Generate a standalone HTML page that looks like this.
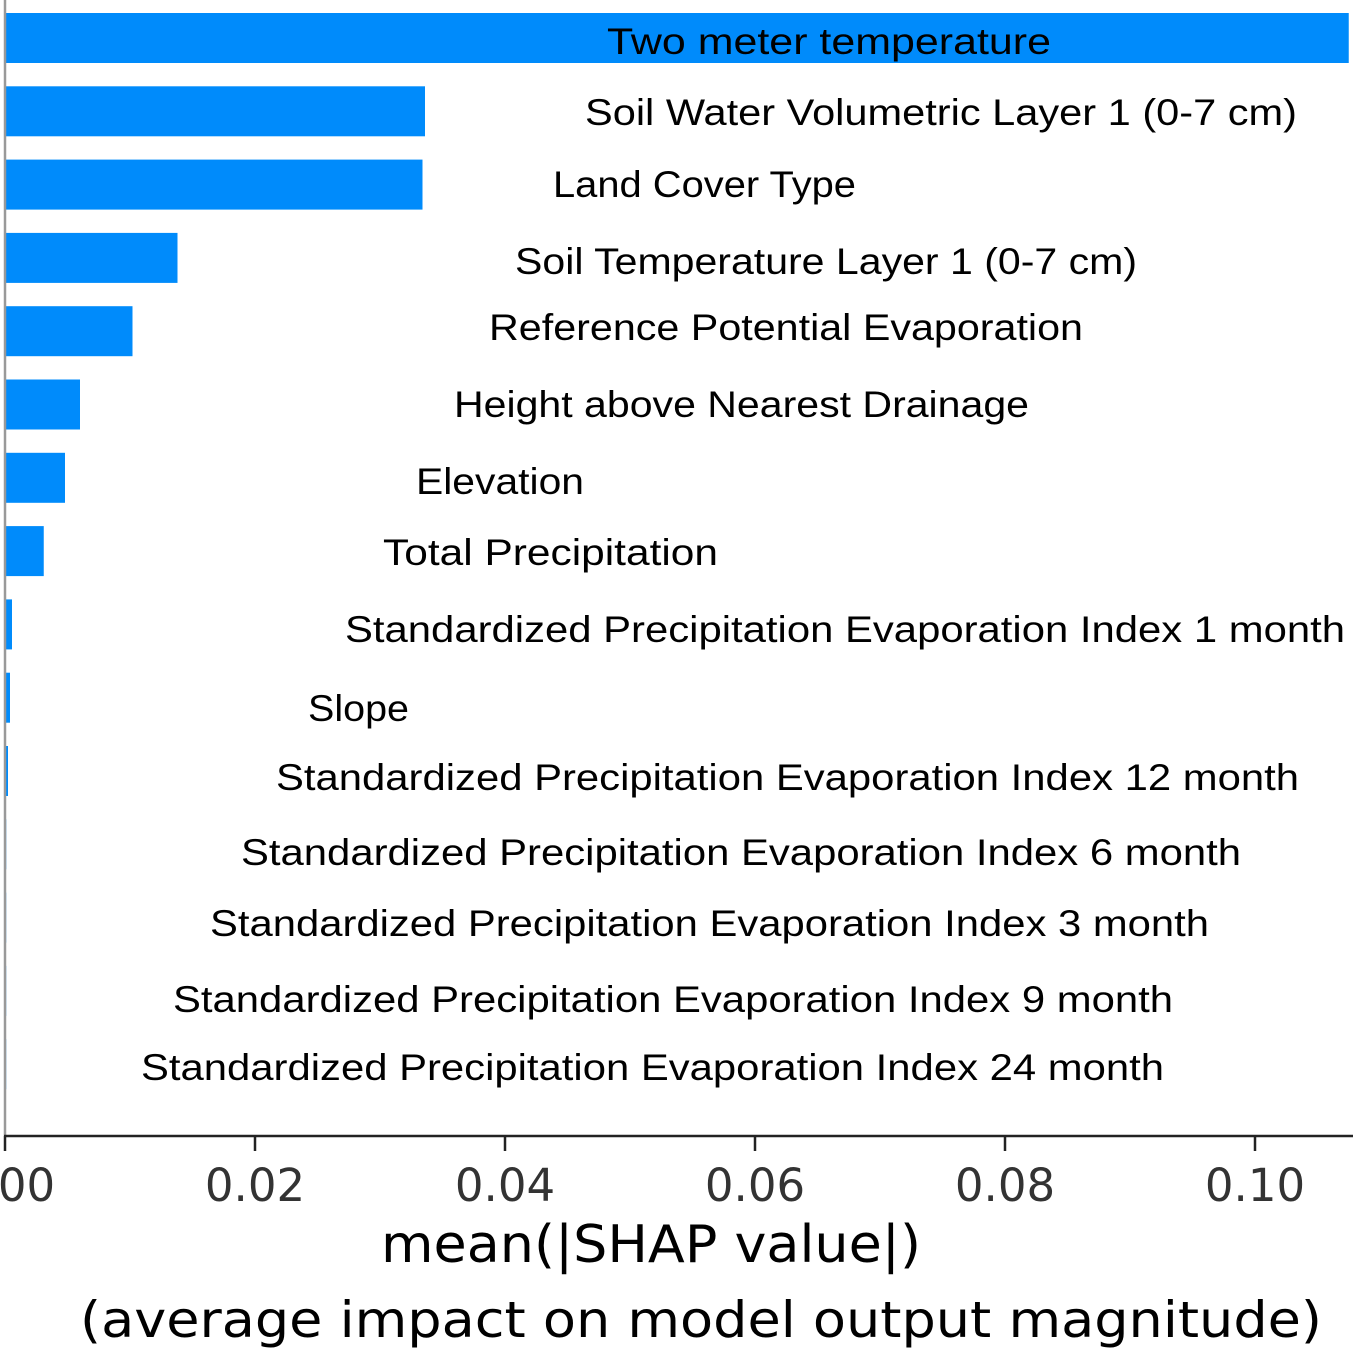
<!DOCTYPE html>
<html><head><meta charset="utf-8"><style>
html,body{margin:0;padding:0;background:#fff;}
svg{display:block;}
</style></head><body>
<svg id="chart" width="1353" height="1349" viewBox="0 0 1353 1349" xmlns="http://www.w3.org/2000/svg"></svg>
<script>
const features = ["Two meter temperature","Soil Water Volumetric Layer 1 (0-7 cm)","Land Cover Type","Soil Temperature Layer 1 (0-7 cm)","Reference Potential Evaporation","Height above Nearest Drainage","Elevation","Total Precipitation","Standardized Precipitation Evaporation Index 1 month","Slope","Standardized Precipitation Evaporation Index 12 month","Standardized Precipitation Evaporation Index 6 month","Standardized Precipitation Evaporation Index 3 month","Standardized Precipitation Evaporation Index 9 month","Standardized Precipitation Evaporation Index 24 month"];
const values = [0.1075,0.0336,0.0334,0.0138,0.0102,0.0060,0.0048,0.0031,0.00056,0.0004,0.00024,0.0001,0.00008,0.00005,0.00003];
const tickValues = [0,0.02,0.04,0.06,0.08,0.10];
const tickLabels = ["0.00","0.02","0.04","0.06","0.08","0.10"];
const labelX = [607,585,553,515,489,454,416,383,345,308,276,241,210,173,141];
const labelY = [41,112,184,261,327,404,481,552,629,708,777,852,923,999,1067];
const labelW = [444,712,303,622,594,575,168,335,1000,101,1023,1000,999,1000,1023];

const NS="http://www.w3.org/2000/svg";
const svg=document.getElementById('chart');
const x0=5, xScale=12500;
const xPos=v=>x0+v*xScale;
const yPos=i=>38+i*73.3;
function mk(tag,attrs,parent){const e=document.createElementNS(NS,tag);for(const k in attrs)e.setAttribute(k,attrs[k]);(parent||svg).appendChild(e);return e;}

values.forEach((v,i)=>{
  const r=mk('rect',{x:x0,y:yPos(i)-25,width:Math.max(xPos(v)-x0,1.2),height:50,fill:'#008bfb'});
  
  
});
features.forEach((f,i)=>{
  const t=mk('text',{x:labelX[i],y:labelY[i]+13,'font-family':'Liberation Sans, sans-serif','font-size':37,fill:'#000',textLength:labelW[i],lengthAdjust:'spacingAndGlyphs'});
  t.textContent=f;
  
  
});
const spine=mk('line',{x1:5,y1:0,x2:5,y2:1136,stroke:'#999',"stroke-width":2.5});


const ax=mk('line',{x1:4,y1:1136,x2:1353,y2:1136,stroke:'#222',"stroke-width":2.5});


tickValues.forEach((v,i)=>{
  const tk=mk('line',{x1:xPos(v),y1:1136,x2:xPos(v),y2:1151,stroke:'#222',"stroke-width":2.5});
  
  
  const t=mk('text',{x:xPos(v),y:1201,'text-anchor':'middle','font-family':'DejaVu Sans, sans-serif','font-size':45,fill:'#333'});
  t.textContent=tickLabels[i];
  
  
});
const t1=mk('text',{x:651,y:1262,'text-anchor':'middle','font-family':'DejaVu Sans, sans-serif','font-size':52,fill:'#000',textLength:540,lengthAdjust:'spacingAndGlyphs'});
t1.textContent='mean(|SHAP value|)';


const t2=mk('text',{x:701,y:1337,'text-anchor':'middle','font-family':'DejaVu Sans, sans-serif','font-size':50,fill:'#000',textLength:1242,lengthAdjust:'spacingAndGlyphs'});
t2.textContent='(average impact on model output magnitude)';


</script>
</body></html>
